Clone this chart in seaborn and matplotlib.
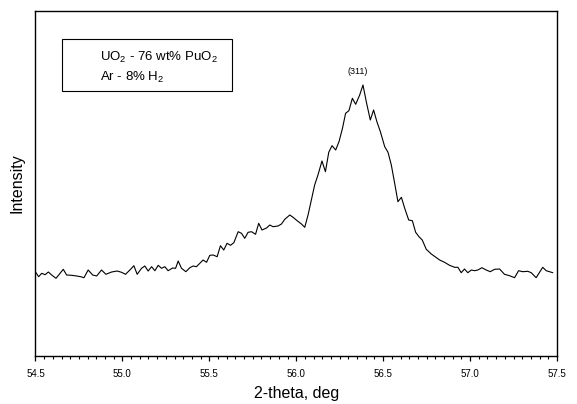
import matplotlib
matplotlib.use("Agg")
import matplotlib.pyplot as plt
import seaborn as sns
import pandas as pd
from matplotlib.patches import Rectangle
from matplotlib.ticker import MultipleLocator

# XRD scan around the (311) reflection
two_theta = [
    54.503, 54.518, 54.536, 54.555, 54.574, 54.593, 54.618, 54.641, 54.660, 54.679,
    54.708, 54.737, 54.760, 54.779, 54.803, 54.829, 54.852, 54.880, 54.905, 54.938,
    54.970, 54.995, 55.018, 55.043, 55.066, 55.085, 55.110, 55.129, 55.148, 55.168,
    55.187, 55.206, 55.225, 55.244, 55.263, 55.289, 55.306, 55.321, 55.340, 55.365,
    55.388, 55.407, 55.426, 55.445, 55.464, 55.484, 55.503, 55.522, 55.545, 55.564,
    55.583, 55.602, 55.622, 55.641, 55.666, 55.685, 55.704, 55.723, 55.743, 55.766,
    55.784, 55.803, 55.829, 55.848, 55.867, 55.895, 55.915, 55.934, 55.963, 55.982,
    56.005, 56.030, 56.049, 56.068, 56.087, 56.106, 56.125, 56.148, 56.168, 56.187,
    56.206, 56.227, 56.246, 56.266, 56.284, 56.303, 56.323, 56.342, 56.365, 56.384,
    56.403, 56.426, 56.445, 56.464, 56.484, 56.509, 56.528, 56.547, 56.566, 56.585,
    56.605, 56.624, 56.647, 56.668, 56.687, 56.706, 56.725, 56.748, 56.777, 56.806,
    56.825, 56.853, 56.882, 56.911, 56.930, 56.949, 56.968, 56.987, 57.007, 57.026,
    57.045, 57.068, 57.093, 57.116, 57.141, 57.170, 57.198, 57.227, 57.256, 57.279,
    57.303, 57.332, 57.352, 57.380, 57.418, 57.438, 57.476,
]
intensity = [
    833, 793, 827, 813, 840, 810, 777, 827, 867, 810,
    807, 800, 793, 783, 860, 810, 800, 860, 817, 840,
    850, 837, 817, 860, 903, 817, 877, 900, 850, 893,
    853, 907, 877, 893, 853, 880, 877, 950, 877, 843,
    883, 900, 893, 927, 960, 937, 1007, 1010, 993, 1103,
    1060, 1127, 1107, 1133, 1243, 1227, 1177, 1237, 1243, 1217,
    1327, 1260, 1280, 1310, 1293, 1300, 1320, 1367, 1410, 1387,
    1353, 1320, 1287, 1410, 1560, 1710, 1810, 1950, 1843, 2037,
    2103, 2060, 2143, 2277, 2427, 2453, 2577, 2517, 2610, 2710,
    2543, 2360, 2460, 2343, 2243, 2093, 2037, 1910, 1730, 1543,
    1587, 1477, 1360, 1353, 1237, 1193, 1160, 1067, 1020, 983,
    960, 937, 907, 887, 887, 833, 870, 833, 860, 853,
    860, 883, 860, 843, 867, 870, 817, 803, 783, 853,
    843, 847, 833, 783, 887, 853, 833,
]
peak_label = "(311)"
peak_pos = (56.353, 2840)
legend_lines = ["UO$_2$ - 76 wt% PuO$_2$", "Ar - 8% H$_2$"]

df = pd.DataFrame({"two_theta": two_theta, "intensity": intensity})

sns.set_style("ticks")
plt.rcParams["font.family"] = ["Liberation Sans", "DejaVu Sans"]
plt.rcParams["mathtext.default"] = "regular"
plt.rcParams["text.color"] = "black"
plt.rcParams["axes.labelcolor"] = "black"
plt.rcParams["xtick.color"] = "black"
plt.rcParams["xtick.labelcolor"] = "black"

fig = plt.figure(figsize=(5.77, 4.04), dpi=100)
ax = fig.add_axes([0.0615, 0.1188, 0.9038, 0.854])

sns.lineplot(data=df, x="two_theta", y="intensity", ax=ax,
             color="black", linewidth=0.8, sort=False)

ax.set_xlim(54.5, 57.5)
ax.set_ylim(0, 3450)
ax.xaxis.set_major_locator(MultipleLocator(0.5))
ax.xaxis.set_minor_locator(MultipleLocator(0.05))
ax.xaxis.set_major_formatter(matplotlib.ticker.FormatStrFormatter("%.1f"))
ax.set_yticks([])
ax.tick_params(axis="x", which="major", direction="out", length=3.5,
               width=0.9, labelsize=7, pad=6, color="black", labelcolor="black")
ax.tick_params(axis="x", which="minor", direction="out", length=2,
               width=0.8, color="black")

for s in ax.spines.values():
    s.set_visible(True)
    s.set_linewidth(1.0)
    s.set_color("black")

ax.set_xlabel("2-theta, deg", fontsize=11.5, labelpad=5, color="black")
ax.set_ylabel("Intensity", fontsize=11.5, labelpad=8, color="black")

ax.text(peak_pos[0], peak_pos[1], peak_label, fontsize=6.5,
        ha="center", va="center", color="black")

# legend-style box with the sample description
ax.add_patch(Rectangle((0.0514, 0.769), 0.326, 0.149, transform=ax.transAxes,
                       fill=False, edgecolor="black", linewidth=0.8))
ax.text(0.1237, 0.864, legend_lines[0], transform=ax.transAxes,
        fontsize=9.5, va="center", ha="left", color="black")
ax.text(0.1237, 0.806, legend_lines[1], transform=ax.transAxes,
        fontsize=9.5, va="center", ha="left", color="black")

fig.savefig("out.png", dpi=100)
plt.close(fig)
